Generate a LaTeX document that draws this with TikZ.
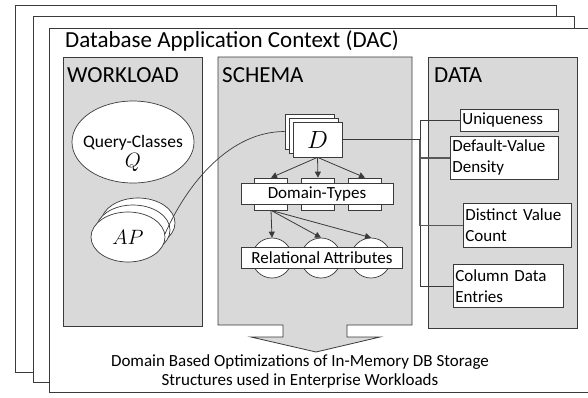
\documentclass[tikz,border=0pt]{standalone}
\usepackage{fontspec}
\setmainfont{Carlito}
\usetikzlibrary{arrows.meta,positioning,shapes.geometric}
\definecolor{ink}{HTML}{3A3A3A}
\definecolor{shade}{HTML}{D9D9D9}
\tikzset{sheet/.style={draw=ink,fill=white,line width=.8pt},panel/.style={draw=ink,fill=shade,line width=.8pt},head/.style={anchor=base west,inner sep=0pt,font=\fontsize{23}{26}\selectfont},card/.style={draw=ink,fill=white,line width=.7pt,inner sep=0pt,font=\fontsize{17}{21}\selectfont},entry/.style={card,anchor=north west,align=left,inner xsep=2pt,inner ysep=2pt},blob/.style={card,ellipse},arr/.style={-{Triangle[length=6pt,width=6pt]},draw=ink,line width=.8pt},link/.style={draw=ink,line width=.7pt},bus/.style={draw=ink!85,line width=1.6pt}}

\begin{document}
\begin{tikzpicture}[x=1pt,y=-1pt]
\clip (0,0) rectangle (588,397);
\fill[white] (0,0) rectangle (588,397);
\draw[sheet] (15,5) rectangle (556,372);
\draw[sheet] (33,16) rectangle (574,382);
\draw[sheet] (49,28) rectangle (592,392);
\node[head] (dac) at (65,47) {Database Application Context (DAC)};
\draw[panel] (63,57) rectangle (202,326);
\draw[panel] (218,57) -- (412,57) -- (412,325) -- (347,325) -- (347,337) -- (380,337) -- (316,352) -- (251,337) -- (283,337) -- (283,325) -- (218,325) -- cycle;
\draw[panel] (428,57) rectangle (577,328);
\node[head] (wlhd) at (67,82) {WORKLOAD};
\node[head] (schd) at (222,82) {SCHEMA};
\node[head] (dathd) at (434,82) {DATA};
\node[blob,minimum width=122pt,minimum height=82pt] (qc) at (133,142) {};
\node[align=center,inner sep=0pt,font=\fontsize{17.5}{20}\selectfont] (qctext) at ([yshift=-11pt]qc.center) {Query-Classes\\{\fontsize{22}{22}\selectfont$Q$}};
\node[blob,minimum width=74pt,minimum height=50pt] (ap3) at (138,223) {};
\node[blob,minimum width=74pt,minimum height=50pt] (ap2) at (133,230) {};
\node[blob,minimum width=74pt,minimum height=50pt,font=\fontsize{20}{22}\selectfont] (ap) at (128,237) {$AP$};
\node[card,minimum width=49pt,minimum height=35pt] (dom3) at (309.5,131.5) {};
\node[card,minimum width=49pt,minimum height=35pt] (dom2) at (313.5,135.5) {};
\node[card,minimum width=49pt,minimum height=35pt,font=\fontsize{26}{28}\selectfont] (dom) at (317.5,139.5) {$D$};
\node[card,minimum width=33pt,minimum height=32pt] (dt1) at (271,194) {};
\node[card,minimum width=33pt,minimum height=32pt] (dt2) at (318,194) {};
\node[card,minimum width=33pt,minimum height=32pt] (dt3) at (365,194) {};
\node[card,minimum width=152pt,minimum height=21pt] (domtypes) at (317,194) {Domain-Types};
\draw[arr] (dom.south) -- (dt1.north);
\draw[arr] (dom.south) -- (dt2.north);
\draw[arr] (dom.south) -- (dt3.north);
\node[card,circle,minimum size=40pt] (ra1) at (272,258) {};
\node[card,circle,minimum size=40pt] (ra2) at (321,258) {};
\node[card,circle,minimum size=40pt] (ra3) at (371,258) {};
\node[card,minimum width=161pt,minimum height=21pt] (relattr) at (322,258) {Relational Attributes};
\draw[arr] (dt1.south) -- (ra1.north);
\draw[arr] (dt1.south) -- (ra2.north);
\draw[arr] (dt1.south) -- (ra3.north);
\draw[link] (ap.5) .. controls +(22,-50) and +(-55,0) .. (dom3.west);
\node[entry,text width=94pt,minimum height=22pt] (uniq) at (460,109) {Uniqueness};
\node[entry,text width=104pt,minimum height=43pt] (dflt) at (450,136) {Default-Value\\Density};
\node[entry,text width=104pt,minimum height=44pt] (dist) at (463,203) {Distinct Value\\Count};
\node[entry,text width=106pt,minimum height=43pt] (entries) at (453,264) {Column Data\\Entries};
\coordinate (tap) at (420,0);
\draw[link] (uniq.west) -| (tap |- entries.west) -- (entries.west);
\draw[link] (dom.east) -- (dom.east -| tap);
\draw[bus] (dom.east -| tap) |- (dist.west);
\draw[bus] (dflt.west -| tap) -- (dflt.west);
\node[align=center,anchor=base,inner sep=0pt,font=\fontsize{17}{19}\selectfont] (goal) at (300,385) {Domain Based Optimizations of In-Memory DB Storage\\Structures used in Enterprise Workloads};
\end{tikzpicture}
\end{document}
